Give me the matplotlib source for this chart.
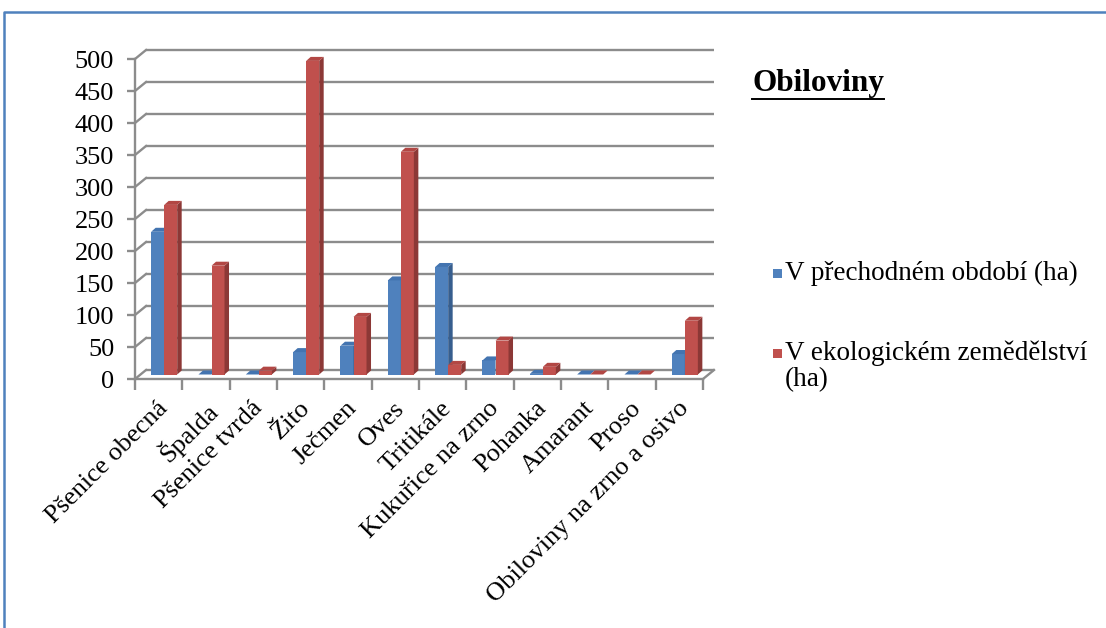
import matplotlib
matplotlib.use("Agg")
import matplotlib.pyplot as plt
from matplotlib.patches import Polygon, Rectangle
from matplotlib.lines import Line2D
import matplotlib.transforms as mtransforms

categories = ['Pšenice obecná', 'Špalda', 'Pšenice tvrdá', 'Žito', 'Ječmen', 'Oves',
              'Tritikále', 'Kukuřice na zrno', 'Pohanka', 'Amarant', 'Proso',
              'Obiloviny na zrno a osivo']
prechodne = [223, 0, 0, 35, 45, 147, 168, 22, 1, 0, 0, 32]
ekologicke = [265, 170, 6, 490, 90, 348, 15, 53, 12, 0, 0, 84]
series_names = ['V přechodném období (ha)', 'V ekologickém zemědělství', '(ha)']
yticks = list(range(0, 501, 50))
title = 'Obiloviny'

W, H, DPI = 1106, 628, 100
plt.rcParams['font.family'] = ['Liberation Serif', 'DejaVu Serif']
fig = plt.figure(figsize=(W / DPI, H / DPI), dpi=DPI)
fig.patch.set_facecolor('white')

def fx(x):
    return x / W

def fy(y):
    return 1 - y / H

# front plane of the plot: x 135..703 px, y 379 (0) .. 59 (500)
ax = fig.add_axes([fx(135), fy(379), fx(703) - fx(135), (379 - 59) / H])
ax.set_xlim(-0.5, len(categories) - 0.5)
ax.set_ylim(0, 500)
ax.set_facecolor('none')
for s in ['top', 'right']:
    ax.spines[s].set_visible(False)
grid_c = '#8c8c8c'
for s in ['left', 'bottom']:
    ax.spines[s].set_color(grid_c)
    ax.spines[s].set_linewidth(1.7)

# back wall offset and bar plane offset (pixels)
DX, DY = 11, 9
back_tr = mtransforms.offset_copy(ax.transData, fig=fig, x=DX, y=DY, units='dots')
mid_tr = mtransforms.offset_copy(ax.transData, fig=fig, x=5.5, y=4.5, units='dots')

x0, x1 = ax.get_xlim()
for t in yticks:
    ax.plot([x0, x1], [t, t], color=grid_c, lw=1.7, transform=back_tr, zorder=1, clip_on=False,
            solid_capstyle='butt')
# left wall connectors
for t in yticks:
    a = ax.transData.transform((x0, t))
    b = a + [DX, DY]
    fig.add_artist(Line2D([a[0], b[0]], [a[1], b[1]], color=grid_c, lw=1.7, transform=None, zorder=1))
# floor right connector
a = ax.transData.transform((x1, 0))
b = a + [DX, DY]
fig.add_artist(Line2D([a[0], b[0]], [a[1], b[1]], color=grid_c, lw=1.7, transform=None, zorder=1))

# data units per pixel
p0 = ax.transData.transform((0, 0))
p1 = ax.transData.transform((1, 100))
ux = 1 / (p1[0] - p0[0])
uy = 100 / (p1[1] - p0[1])
depth_x, depth_y = 4.5 * ux, 4.0 * uy

bw = 0.275
colors = [('#4F81BD', '#4374B0', '#375E8E'), ('#C0504D', '#B24744', '#8C3836')]
for si, vals in enumerate([prechodne, ekologicke]):
    front, top, side = colors[si]
    for i, v in enumerate(vals):
        xl = i - bw + si * bw
        xr = xl + bw
        ax.add_patch(Rectangle((xl, 0), bw, v, facecolor=front, edgecolor='none',
                               transform=mid_tr, zorder=3 + si, clip_on=False))
        ax.add_patch(Polygon([(xr, 0), (xr + depth_x, depth_y), (xr + depth_x, v + depth_y), (xr, v)],
                             closed=True, facecolor=side, edgecolor='none', transform=mid_tr,
                             zorder=3 + si, clip_on=False))
        ax.add_patch(Polygon([(xl, v), (xr, v), (xr + depth_x, v + depth_y), (xl + depth_x, v + depth_y)],
                             closed=True, facecolor=top, edgecolor='none', transform=mid_tr,
                             zorder=3 + si, clip_on=False))

ax.set_yticks(yticks)
ax.set_yticklabels([str(t) for t in yticks], fontsize=19)
ax.tick_params(axis='y', direction='out', length=6, width=1.7, color=grid_c, pad=9)
ax.set_xticks([i + 0.5 for i in range(-1, len(categories))], minor=True)
ax.tick_params(axis='x', which='minor', direction='out', length=8, width=1.7, color=grid_c)
ax.set_xticks(range(len(categories)))
ax.set_xticklabels(categories, rotation=45, ha='right', va='top', rotation_mode='anchor', fontsize=19)
ax.tick_params(axis='x', which='major', length=0, pad=13)
shift = mtransforms.ScaledTranslation(-2 / DPI, 0, fig.dpi_scale_trans)
for lab in ax.get_xticklabels():
    lab.set_transform(lab.get_transform() + shift)

# title with underline
tt = fig.text(fx(752), fy(84), title, fontsize=22.5, fontweight='bold', ha='left', va='center')
fig.canvas.draw()
bb = tt.get_window_extent(renderer=fig.canvas.get_renderer())
fig.add_artist(Line2D([bb.x0, bb.x1], [H - 99, H - 99], color='black', lw=1.4, transform=None))

# legend
fig.add_artist(Rectangle((fx(773), fy(278)), 9 / W, 9 / H, facecolor='#4F81BD', edgecolor='none',
                         transform=fig.transFigure))
fig.text(fx(785), fy(273), series_names[0], fontsize=19.5, ha='left', va='center')
fig.add_artist(Rectangle((fx(773), fy(358)), 9 / W, 9 / H, facecolor='#C0504D', edgecolor='none',
                         transform=fig.transFigure))
fig.text(fx(785), fy(353), series_names[1], fontsize=19.5, ha='left', va='center')
fig.text(fx(785), fy(380), series_names[2], fontsize=19.5, ha='left', va='center')

# outer border (blue)
bc = '#4F81BD'
fig.add_artist(Line2D([fx(4), fx(4), 1.0], [0.0, fy(12), fy(12)], color=bc, lw=1.8,
                      transform=fig.transFigure))

fig.savefig('out.png', dpi=DPI)
